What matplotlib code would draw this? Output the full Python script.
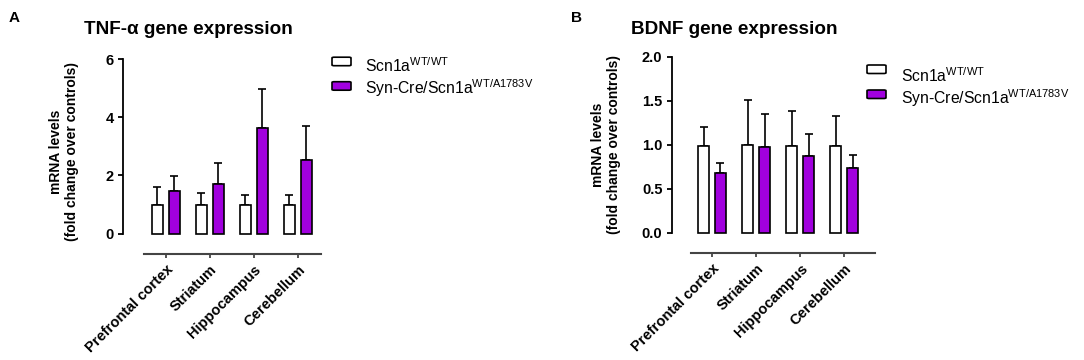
import matplotlib
matplotlib.use('Agg')
import matplotlib.pyplot as plt
from matplotlib.patches import FancyBboxPatch
import numpy as np

plt.rcParams['font.family'] = ['Liberation Sans', 'DejaVu Sans']
plt.rcParams['mathtext.default'] = 'regular'

# ---------------- data ----------------
regions = ['Prefrontal cortex', 'Striatum', 'Hippocampus', 'Cerebellum']
series_names = ['Scn1a$^{WT/WT}$', 'Syn-Cre/Scn1a$^{WT/A1783V}$']

tnf_wt = [1.0, 1.0, 1.0, 1.0]
tnf_wt_err = [0.61, 0.39, 0.33, 0.33]
tnf_mut = [1.46, 1.72, 3.64, 2.52]
tnf_mut_err = [0.53, 0.70, 1.34, 1.17]
tnf_ticks = [0, 2, 4, 6]
tnf_ticklabels = ['0', '2', '4', '6']

bdnf_wt = [0.99, 1.0, 0.99, 0.99]
bdnf_wt_err = [0.21, 0.51, 0.39, 0.34]
bdnf_mut = [0.68, 0.97, 0.87, 0.73]
bdnf_mut_err = [0.11, 0.38, 0.25, 0.15]
bdnf_ticks = [0.0, 0.5, 1.0, 1.5, 2.0]
bdnf_ticklabels = ['0.0', '0.5', '1.0', '1.5', '2.0']

titles = ['TNF-α gene expression', 'BDNF gene expression']
panel_letters = ['A', 'B']
ylabel = 'mRNA levels\n(fold change over controls)'

PURPLE = '#a100df'
W, H = 1084, 360

fig = plt.figure(figsize=(W / 100, H / 100), dpi=100)


def fx(px):
    return px / W


def fy(py):
    return 1 - py / H


def draw_panel(rect, xlim, cat_bounds, wt, wt_err, mut, mut_err, ticks, ticklabels,
               ylab_x, ylab_y):
    ax = fig.add_axes(rect)
    x = np.arange(len(regions))
    off, bw = 0.19, 0.25
    ax.bar(x - off, wt, bw, color='white', edgecolor='black', linewidth=1.2,
           clip_on=False, zorder=2)
    ax.bar(x + off, mut, bw, color=PURPLE, edgecolor='black', linewidth=1.2,
           clip_on=False, zorder=2)
    ax.errorbar(x - off, wt, yerr=[np.zeros(len(wt)), wt_err], fmt='none',
                ecolor='black', elinewidth=1.2, capsize=2.8, capthick=1.2, zorder=1)
    ax.errorbar(x + off, mut, yerr=[np.zeros(len(mut)), mut_err], fmt='none',
                ecolor='black', elinewidth=1.2, capsize=2.8, capthick=1.2, zorder=1)
    ax.set_xlim(*xlim)
    ax.set_ylim(ticks[0], ticks[-1])
    for s in ['top', 'right']:
        ax.spines[s].set_visible(False)
    ax.spines['left'].set_linewidth(1.3)
    ax.spines['bottom'].set_position(('outward', 14.8))
    ax.spines['bottom'].set_bounds(*cat_bounds)
    ax.spines['bottom'].set_linewidth(1.5)
    ax.spines['bottom'].set_color('#444444')
    ax.tick_params(axis='y', length=3.5, width=1.3, pad=3)
    ax.tick_params(axis='x', length=3, width=1.3, color='#444444', pad=3)
    ax.set_yticks(ticks)
    ax.set_yticklabels(ticklabels, fontsize=10.5, fontweight='bold')
    ax.set_xticks(x)
    ax.set_xticklabels(regions, rotation=45, ha='right', va='top',
                       rotation_mode='anchor', fontsize=10.5, fontweight='bold')
    ax.set_ylabel(ylabel, fontsize=10, fontweight='bold', linespacing=1.2)
    ax.yaxis.set_label_coords(ylab_x, ylab_y)
    return ax


axA = draw_panel([fx(123), fy(233.7), fx(199), (233.7 - 59) / H], (-0.97, 3.55),
                 (-0.49, 3.52), tnf_wt, tnf_wt_err, tnf_mut, tnf_mut_err,
                 tnf_ticks, tnf_ticklabels, -0.22, 0.47)
axB = draw_panel([fx(671.5), fy(232.7), fx(204.6), (232.7 - 56.7) / H], (-0.92, 3.72),
                 (-0.48, 3.70), bdnf_wt, bdnf_wt_err, bdnf_mut, bdnf_mut_err,
                 bdnf_ticks, bdnf_ticklabels, -0.247, 0.5)

# titles and panel letters
fig.text(fx(188), fy(29), titles[0], ha='center', va='center', fontsize=13.6, fontweight='bold')
fig.text(fx(734), fy(29), titles[1], ha='center', va='center', fontsize=13.6, fontweight='bold')
fig.text(fx(14), fy(18), panel_letters[0], ha='center', va='center', fontsize=11, fontweight='bold')
fig.text(fx(576), fy(18), panel_letters[1], ha='center', va='center', fontsize=11, fontweight='bold')


# legends
def legend(box_x, text_x, box_rows, text_rows, fs):
    colors = ['white', PURPLE]
    for i in range(2):
        by = box_rows[i]
        p = FancyBboxPatch((fx(box_x), fy(by + 4.2)), fx(19), 8.5 / H,
                           boxstyle='round,pad=0.0,rounding_size=0.002',
                           transform=fig.transFigure, facecolor=colors[i],
                           edgecolor='black', linewidth=1.2)
        fig.add_artist(p)
        fig.text(fx(text_x), fy(text_rows[i]), series_names[i], ha='left',
                 va='baseline', fontsize=fs)


legend(332, 365, [61.5, 86], [72.3, 94], 11.3)
legend(867, 901, [69.3, 94.3], [81.7, 103.7], 11.3)

fig.savefig('out.png', dpi=100)
